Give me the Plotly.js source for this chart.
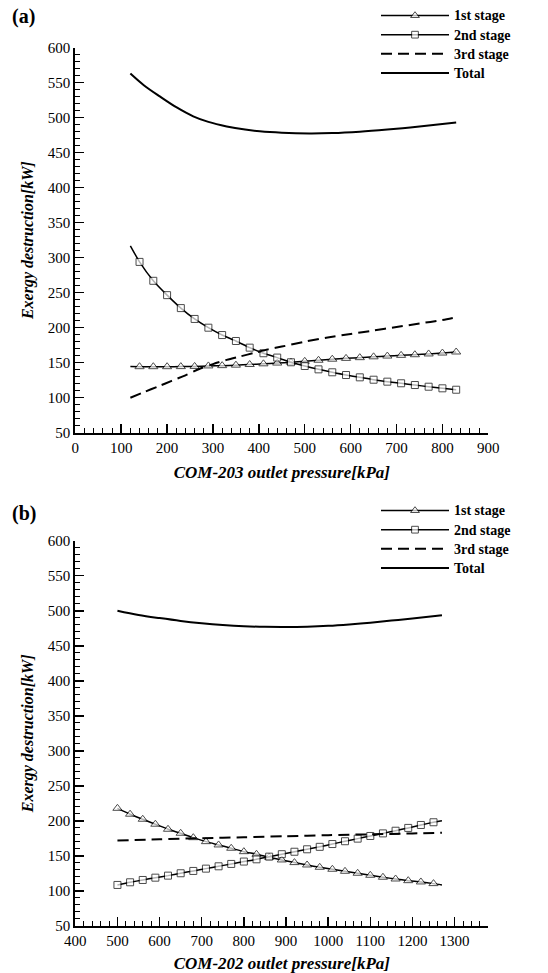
<!DOCTYPE html>
<html>
<head>
<meta charset="utf-8">
<script src="https://cdn.plot.ly/plotly-3.0.1.min.js"></script>
<style>html,body{margin:0;padding:0;background:#fff;}#chart{width:548px;height:973px;}</style>
</head>
<body>
<div id="chart"></div>
<script>
// ---------- Panel (a): COM-203 outlet pressure ----------
const xA_stage = [120,140,170,200,230,260,290,320,350,380,410,440,470,500,530,560,590,620,650,680,710,740,770,800,830];
const yA_stage1 = [144.5,144.3,144.3,144.3,144.4,144.7,145.4,145.8,146.5,147.4,148.4,149.5,150.6,152,153.5,155,156.2,157.2,158.4,159.5,160.5,161.4,162.5,163.8,165.3];
const yA_stage2 = [317,294,267,246.5,228,212.5,200,189.5,181,171.5,163.5,157.3,150.6,145.3,140.5,136.3,132.4,129.1,125.7,122.9,120.6,118.1,115.7,113.4,111.4];
const xA_stage3 = [120,150,180,210,240,270,300,330,360,390,420,450,500,550,600,650,700,750,800,830];
const yA_stage3 = [100,108,116,124,132,141,148,154,159,164,169,173,180,186,191,196,201,206,211,215];
const xA_total = [120,150,185,220,257,290,330,370,402,450,510,560,620,680,730,780,830];
const yA_total = [563,546,530,515,502,494,487.5,483,480.5,478.5,477.5,478,480,483,486,489.5,493];

// ---------- Panel (b): COM-202 outlet pressure ----------
const xB_stage = [500,530,560,590,620,650,680,710,740,770,800,830,860,890,920,950,980,1010,1040,1070,1100,1130,1160,1190,1220,1250,1270];
const yB_stage1 = [218,209.6,202.4,195.3,188.1,182.4,176.1,170.4,165.7,161,156.1,152.4,148,144.3,140.5,137.1,133.8,131,128.1,125.3,122.4,119.6,117.1,114.7,112.9,110.5,108.6];
const yB_stage2 = [108.6,112.4,115.7,119,121.9,125.3,128.6,131.9,135.2,138.6,142,145.2,149,152.5,156,159.5,163,167,171,174.7,178.5,182.2,186,190,194.2,198.1,200.4];
const xB_stage3 = [500,600,700,800,900,1000,1100,1200,1270];
const yB_stage3 = [172,173.8,175.3,176.7,178.2,179.6,180.9,182.1,183.2];
const xB_total = [500,550,600,650,700,750,800,850,900,950,1000,1050,1100,1150,1200,1270];
const yB_total = [500,494,489.5,485.5,482.3,479.8,478,477,476.8,477.3,478.5,480.5,483,486,489,493.5];

const seriesNames = ['1st stage','2nd stage','3rd stage','Total'];

// marker only on the measured points (the first line point of panel a / last of panel b has none)
function sizes(n, s, skipFirst, skipLast) {
  const a = new Array(n).fill(s);
  if (skipFirst) a[0] = 0;
  if (skipLast) a[n-1] = 0;
  return a;
}

const LW = 1.5;
function label(name) { return '<span style="font-size:14px">' + name + '</span>'; }
function mk(x, y, name, kind, xa, ya, leg, skipFirst, skipLast) {
  const t = {x:x, y:y, name:label(name), xaxis:xa, yaxis:ya, legend:leg, type:'scatter', hoverinfo:'skip'};
  if (kind === 'tri') {
    t.mode = 'lines+markers';
    t.line = {color:'#000', width:LW, shape:'spline', smoothing:0.6};
    t.marker = {symbol:'triangle-up', size:sizes(x.length, 8, skipFirst, skipLast), color:'#fff', line:{color:'#000', width:1}};
  } else if (kind === 'sq') {
    t.mode = 'lines+markers';
    t.line = {color:'#000', width:LW, shape:'spline', smoothing:0.6};
    t.marker = {symbol:'square', size:sizes(x.length, 7, skipFirst, skipLast), color:'#fff', line:{color:'#000', width:1}};
  } else if (kind === 'dash') {
    t.mode = 'lines';
    t.line = {color:'#000', width:2, dash:'11px,6px', shape:'spline', smoothing:0.8};
  } else {
    t.mode = 'lines';
    t.line = {color:'#000', width:2, shape:'spline', smoothing:1};
  }
  return t;
}

const data = [
  mk(xA_stage, yA_stage1, seriesNames[0], 'tri', 'x', 'y', 'legend', true, false),
  mk(xA_stage, yA_stage2, seriesNames[1], 'sq', 'x', 'y', 'legend', true, false),
  mk(xA_stage3, yA_stage3, seriesNames[2], 'dash', 'x', 'y', 'legend'),
  mk(xA_total, yA_total, seriesNames[3], 'solid', 'x', 'y', 'legend'),
  mk(xB_stage, yB_stage1, seriesNames[0], 'tri', 'x2', 'y2', 'legend2', false, true),
  mk(xB_stage, yB_stage2, seriesNames[1], 'sq', 'x2', 'y2', 'legend2', false, true),
  mk(xB_stage3, yB_stage3, seriesNames[2], 'dash', 'x2', 'y2', 'legend2'),
  mk(xB_total, yB_total, seriesNames[3], 'solid', 'x2', 'y2', 'legend2')
];

const FONT = '"Liberation Serif", "Times New Roman", Times, serif';
function xax(range, anchor, title) {
  return {
    domain:[75.3/548, 488.3/548], range:range, anchor:anchor,
    dtick:100, tick0:0, ticks:'inside', ticklen:9, tickwidth:1.5, tickcolor:'#000',
    showline:true, linewidth:2, linecolor:'#000', showgrid:false, zeroline:false,
    tickfont:{family:FONT, size:15, color:'#000'},
    minor:{dtick:20, ticks:'inside', ticklen:5, tickwidth:1, tickcolor:'#000', showgrid:false},
    title:{text:'<b><i>'+title+'</i></b>', font:{family:FONT, size:17, color:'#000'}, standoff:11},
    automargin:false
  };
}
function yax(dom, anchor) {
  return {
    domain:dom, range:[50,600], anchor:anchor,
    dtick:50, tick0:0, ticks:'inside', ticklen:9, tickwidth:1.5, tickcolor:'#000',
    showline:true, linewidth:2, linecolor:'#000', showgrid:false, zeroline:false,
    tickfont:{family:FONT, size:15, color:'#000'},
    minor:{dtick:10, ticks:'inside', ticklen:5, tickwidth:1, tickcolor:'#000', showgrid:false},
    title:{text:'<b><i>Exergy destruction[kW]</i></b>', font:{family:FONT, size:16, color:'#000'}, standoff:10},
    automargin:false
  };
}

const H = 973;
const legendCommon = {
  xanchor:'left', yanchor:'top', bgcolor:'rgba(0,0,0,0)', borderwidth:0,
  font:{family:FONT, size:12.4, color:'#000', weight:'bold'}, itemwidth:68, tracegroupgap:0,
  traceorder:'normal'
};

const layout = {
  width:548, height:973,
  margin:{l:0, r:0, t:0, b:0},
  paper_bgcolor:'#fff', plot_bgcolor:'#fff',
  font:{family:FONT, color:'#000'},
  showlegend:true,
  xaxis: xax([0,900], 'y', 'COM-203 outlet pressure[kPa]'),
  yaxis: yax([(H-432.7)/H, (H-47.7)/H], 'x'),
  xaxis2: xax([400,1380], 'y2', 'COM-202 outlet pressure[kPa]'),
  yaxis2: yax([(H-926)/H, (H-540.7)/H], 'x2'),
  legend: Object.assign({x:376/548, y:(H-1)/H}, legendCommon),
  legend2: Object.assign({x:376/548, y:(H-496)/H}, legendCommon),
  annotations:[
    {text:'<b>(a)</b>', xref:'paper', yref:'paper', x:10/548, y:(H-17)/H, xanchor:'left', yanchor:'middle', showarrow:false, font:{family:FONT, size:20, color:'#000'}},
    {text:'<b>(b)</b>', xref:'paper', yref:'paper', x:10/548, y:(H-513)/H, xanchor:'left', yanchor:'middle', showarrow:false, font:{family:FONT, size:20, color:'#000'}}
  ]
};

Plotly.newPlot('chart', data, layout, {staticPlot:true, displayModeBar:false});
</script>
</body>
</html>
